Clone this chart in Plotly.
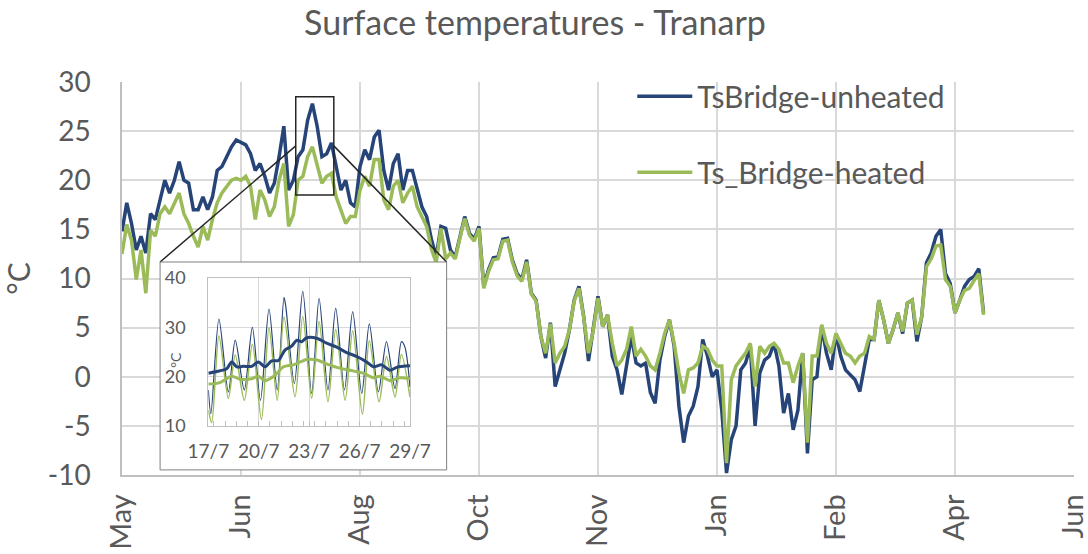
import pandas as pd
import plotly.graph_objects as go

TITLE = "Surface temperatures - Tranarp"

# main chart: one value every second day, starting 4 May
START = "2014-05-04"
AXIS_END = "2015-06-08"
Y_MIN, Y_MAX = -10, 30
Y_TICKS = [-10, -5, 0, 5, 10, 15, 20, 25, 30]

unheated = [
    14.8, 17.7, 15.6, 12.9, 14.3, 12.6, 16.6, 16.0, 18.0, 20.0,
    18.7, 20.0, 21.9, 20.0, 19.7, 17.0, 17.0, 18.3, 17.0, 18.3,
    21.0, 21.4, 22.4, 23.4, 24.1, 23.8, 23.6, 22.7, 21.0, 21.7,
    20.4, 18.7, 19.7, 22.4, 25.5, 19.0, 20.0, 22.4, 23.1, 26.1,
    27.8, 25.5, 22.4, 22.7, 23.8, 21.4, 19.0, 20.0, 17.7, 17.3,
    21.4, 23.1, 22.1, 24.4, 25.1, 21.0, 19.0, 21.7, 22.7, 19.0,
    21.0, 21.0, 19.0, 17.3, 16.3, 14.0, 12.2, 15.3, 15.1, 12.9,
    12.2, 14.3, 16.3, 14.6, 14.0, 15.3, 9.2, 10.9, 12.1, 12.2,
    14.0, 14.1, 11.9, 10.5, 9.9, 11.9, 8.5, 7.8, 4.1, 1.9,
    5.5, -1.0, 0.7, 2.4, 4.8, 7.8, 9.2, 6.1, 1.6, 4.8,
    8.2, 5.1, 6.3, 2.1, 0.7, -1.8, 1.1, 4.1, 1.4, 1.1,
    1.4, -1.6, -2.7, 1.7, 4.1, 5.8, 3.1, -3.0, -6.7, -4.0,
    -3.0, -1.0, 3.8, 2.1, 0.0, 0.7, -3.4, -9.8, -6.4, -5.0,
    0.7, 1.4, 3.1, -5.0, 0.4, 1.7, 2.1, 3.4, 1.1, -3.7,
    -1.7, -5.4, -3.4, 2.4, -7.8, -0.3, 0.0, 5.1, 2.4, 0.7,
    4.4, 2.1, 0.7, 0.2, -0.3, -1.5, 1.4, 3.8, 3.8, 7.8,
    5.8, 3.4, 4.8, 6.5, 4.4, 7.5, 7.8, 3.6, 6.1, 11.6,
    12.6, 14.3, 15.0, 10.5, 9.5, 6.5, 7.8, 9.2, 9.9, 10.2,
    11.0, 6.5,
]
heated = [
    12.5, 15.5, 13.9, 9.9, 12.9, 8.5, 14.9, 14.3, 16.6, 17.3,
    16.6, 17.7, 18.7, 16.6, 15.6, 14.3, 13.2, 15.3, 13.9, 16.0,
    17.7, 18.7, 19.4, 20.0, 20.2, 20.0, 20.4, 19.4, 16.0, 19.0,
    18.0, 16.3, 17.3, 20.0, 21.7, 15.3, 16.5, 20.0, 20.4, 22.4,
    23.4, 21.7, 19.7, 20.4, 20.7, 18.3, 17.0, 15.6, 16.3, 16.3,
    19.0, 20.4, 19.4, 22.1, 22.1, 18.0, 17.0, 19.4, 20.0, 17.7,
    18.7, 19.4, 17.3, 16.3, 15.3, 13.0, 11.6, 15.1, 12.0, 12.6,
    12.0, 14.1, 16.1, 14.4, 13.8, 15.1, 9.0, 10.7, 11.9, 12.0,
    13.8, 13.9, 11.7, 10.3, 9.7, 11.7, 8.4, 7.7, 4.1, 2.4,
    5.4, 1.4, 2.4, 3.1, 4.8, 7.7, 9.0, 6.0, 2.4, 4.7,
    8.0, 5.1, 6.3, 3.4, 1.1, 1.7, 2.8, 5.1, 2.1, 2.8,
    2.1, 1.1, 0.7, 2.4, 4.4, 5.8, 3.4, 0.4, -1.7, 0.7,
    0.9, 1.4, 3.1, 2.8, 1.7, 1.1, 1.1, -8.8, -0.3, 1.1,
    1.7, 2.4, 3.4, -1.0, 3.1, 2.4, 3.1, 3.4, 2.8, 1.4,
    1.4, -0.6, 1.1, 2.4, -6.7, 2.1, 2.1, 5.3, 3.4, 2.4,
    4.4, 3.4, 2.4, 2.1, 1.4, 2.1, 2.4, 4.1, 3.8, 7.8,
    5.8, 3.4, 4.8, 6.5, 4.6, 7.5, 7.8, 4.3, 6.1, 11.2,
    12.0, 13.3, 13.4, 9.9, 9.2, 6.5, 7.8, 8.8, 9.0, 9.8,
    10.5, 6.3,
]

# inset: 17/7 - 29/7, times in days after 17/7 00:00
INSET_START = "2014-07-17"
INSET_END = "2014-07-29"
unheated_raw_t = [0, 0.15, 0.63, 1.19, 1.6, 2.14, 2.62, 3.1, 3.61, 4.1, 4.5, 4.6,
                  5.12, 5.62, 6.15, 6.59, 7.12, 7.58, 8.1, 8.59, 9.13, 9.58,
                  10.12, 10.6, 11.11, 11.49, 11.7, 12.0]
unheated_raw = [17.3, 12.5, 31.7, 16.9, 27.4, 17.3, 30.0, 15.2, 33.7, 17.3, 36.1, 34.5,
                18.6, 37.3, 16.6, 35.9, 17.3, 33.9, 17.3, 33.2, 16.6, 30.7,
                16.9, 27.1, 17.6, 27.1, 26.0, 17.9]
heated_raw_t = [0, 0.2, 0.63, 1.19, 1.6, 2.14, 2.62, 3.16, 3.61, 4.1, 4.5, 5.16,
                5.62, 6.15, 6.59, 7.12, 7.58, 8.14, 8.59, 9.17, 9.58, 10.16,
                10.6, 11.11, 11.49, 12.0]
heated_raw = [13.2, 10.7, 28.3, 15.6, 24.4, 15.2, 26.6, 11.3, 30.0, 15.2, 32.1, 15.9,
              32.2, 15.6, 31.2, 14.9, 29.6, 15.2, 29.3, 12.4, 27.3, 14.9,
              24.1, 15.9, 24.5, 15.9]
unheated_avg_t = [0, 0.69, 1.09, 1.39, 1.69, 2.08, 2.58, 2.98, 3.37, 3.77, 4.17, 4.56,
                  4.96, 5.26, 5.56, 5.85, 6.45, 7.04, 7.64, 8.23, 8.83, 9.42,
                  9.82, 10.32, 10.81, 11.21, 12.0]
unheated_avg = [20.7, 21.2, 21.6, 23.0, 22.0, 22.1, 22.1, 23.0, 22.0, 23.2, 23.3, 25.4,
                26.2, 27.4, 27.1, 27.9, 27.8, 26.8, 26.0, 24.9, 24.1, 23.0,
                22.0, 22.4, 21.3, 21.9, 22.2]
heated_avg_t = [0, 0.69, 1.39, 1.88, 2.58, 2.98, 3.37, 3.97, 4.46, 5.06, 5.85, 6.45,
                7.04, 7.64, 8.43, 9.23, 9.82, 10.22, 10.81, 11.41, 12.0]
heated_avg = [18.5, 18.8, 20.1, 19.5, 19.6, 20.1, 19.2, 20.3, 22.0, 22.4, 23.5, 23.4,
              22.6, 21.9, 21.3, 20.7, 19.8, 20.1, 19.2, 19.8, 19.6]

# zoom window marked on the main chart
ZOOM_X = ("2014-07-16", "2014-08-01")
ZOOM_Y = (18.5, 28.5)

BLUE = "#264478"
GREEN = "#9BBB59"
TEXT = "#595959"
GRID = "#D9D9D9"
FONT = "Lato"

# inset placement (paper fractions)
INSET_BOX = dict(x0=0.040, x1=0.341, y0=0.013, y1=0.542)
INSET_X = [0.0907, 0.3025]
INSET_Y = [0.1247, 0.501]

dates = pd.date_range(START, periods=len(unheated), freq="2D")
t0 = pd.Timestamp(INSET_START)


def inset_times(days):
    return [t0 + pd.Timedelta(days=d) for d in days]


def to_paper(date, value):
    a, b = pd.Timestamp(START), pd.Timestamp(AXIS_END)
    return (pd.Timestamp(date) - a) / (b - a), (value - Y_MIN) / (Y_MAX - Y_MIN)


fig = go.Figure()
fig.add_trace(go.Scatter(x=dates, y=unheated, name="TsBridge-unheated", mode="lines",
                         line=dict(color=BLUE, width=3.5), legendgroup="a"))
fig.add_trace(go.Scatter(x=dates, y=heated, name="Ts_Bridge-heated", mode="lines",
                         line=dict(color=GREEN, width=3.5), legendgroup="b"))

# empty subplot whose background masks the main chart behind the inset
fig.add_trace(go.Scatter(x=[None], y=[None], xaxis="x2", yaxis="y2",
                         showlegend=False, hoverinfo="skip"))

for t, v, color, w in [
    (unheated_raw_t, unheated_raw, BLUE, 1.2),
    (heated_raw_t, heated_raw, GREEN, 1.5),
    (unheated_avg_t, unheated_avg, BLUE, 3),
    (heated_avg_t, heated_avg, GREEN, 3),
]:
    fig.add_trace(go.Scatter(x=inset_times(t), y=v, mode="lines", xaxis="x3", yaxis="y3",
                             line=dict(color=color, width=w, shape="spline", smoothing=0.8),
                             showlegend=False))

tick_font = dict(family=FONT, size=28, color=TEXT)
inset_font = dict(family=FONT, size=18, color=TEXT)

zx0, zy_mid = to_paper(ZOOM_X[0], sum(ZOOM_Y) / 2)
zx1, _ = to_paper(ZOOM_X[1], sum(ZOOM_Y) / 2)

fig.update_layout(
    width=1088, height=554,
    margin=dict(l=122, r=14, t=82, b=79),
    paper_bgcolor="white", plot_bgcolor="#FFFFFF",
    font=dict(family=FONT, color=TEXT),
    title=dict(text=TITLE, x=0.4917, xanchor="center", y=0.958, yanchor="middle",
               font=dict(family=FONT, size=34, color=TEXT)),
    xaxis=dict(type="date", range=[START, AXIS_END], tick0=START, dtick=50 * 86400000,
               tickformat="%b", tickangle=-90, tickfont=dict(tick_font, size=29),
               showgrid=True, gridcolor=GRID, gridwidth=1.5, showline=True,
               linecolor="#BFBFBF", linewidth=1.5, ticks="", ticklabelstandoff=6,
               ticklabeloverflow="allow", automargin=False),
    yaxis=dict(range=[Y_MIN, Y_MAX], tickvals=Y_TICKS, ticktext=[str(v) for v in Y_TICKS],
               tickfont=tick_font, showgrid=True, gridcolor=GRID, gridwidth=1.5,
               zeroline=False, showline=True, linecolor="#BFBFBF", linewidth=1.5,
               ticks="", ticklabelstandoff=24, automargin=False,
               title=dict(text="°C", font=dict(family=FONT, size=30, color=TEXT), standoff=12)),
    xaxis2=dict(domain=[INSET_BOX["x0"], INSET_BOX["x1"]], range=[0, 1], visible=False,
                anchor="y2"),
    yaxis2=dict(domain=[INSET_BOX["y0"], INSET_BOX["y1"]], range=[0, 1], visible=False,
                anchor="x2"),
    xaxis3=dict(domain=INSET_X, anchor="y3", type="date", range=[INSET_START, INSET_END],
                tick0=INSET_START, dtick=3 * 86400000, tickformat="%-d/%-m",
                tickfont=dict(inset_font, size=19), showgrid=True, gridcolor=GRID,
                showline=True, linecolor="#BFBFBF", mirror=True, ticks="inside",
                ticklen=5, tickcolor="#BFBFBF", ticklabelstandoff=8, automargin=False,
                minor=dict(ticks="inside", ticklen=5, dtick=16 * 3600000,
                           tickcolor="#BFBFBF")),
    yaxis3=dict(domain=INSET_Y, anchor="x3", range=[10, 40], dtick=10, tickfont=inset_font,
                showgrid=True, gridcolor=GRID, zeroline=False, showline=True,
                linecolor="#BFBFBF", mirror=True, ticks="", ticklabelstandoff=18,
                automargin=False),
    legend=dict(x=0.536, y=1.03, xanchor="left", yanchor="top", tracegroupgap=34,
                itemwidth=55, font=dict(family=FONT, size=30, color=TEXT),
                bgcolor="rgba(0,0,0,0)"),
    showlegend=True,
)

fig.add_annotation(text="°C", xref="paper", yref="paper", x=0.0567, y=0.293,
                   xanchor="center", yanchor="middle", textangle=-90, showarrow=False,
                   font=dict(inset_font, size=14))

line = dict(color="#262626", width=1.5)
fig.add_shape(type="rect", xref="x", yref="y", x0=ZOOM_X[0], x1=ZOOM_X[1],
              y0=ZOOM_Y[0], y1=ZOOM_Y[1], line=line, layer="above")
fig.add_shape(type="line", xref="paper", yref="paper", x0=zx0, y0=zy_mid,
              x1=INSET_BOX["x0"], y1=INSET_BOX["y1"], line=line, layer="above")
fig.add_shape(type="line", xref="paper", yref="paper", x0=zx1, y0=zy_mid,
              x1=INSET_BOX["x1"], y1=INSET_BOX["y1"], line=line, layer="above")
fig.add_shape(type="rect", xref="paper", yref="paper", **INSET_BOX,
              line=dict(color="#7F7F7F", width=1), layer="above")

assert len(unheated) == len(heated)
# drop the browser's default body margin so the figure sits at the page origin
fig.write_html("out.html", config={"displayModeBar": False},
               post_script="document.body.style.margin = '0';")
